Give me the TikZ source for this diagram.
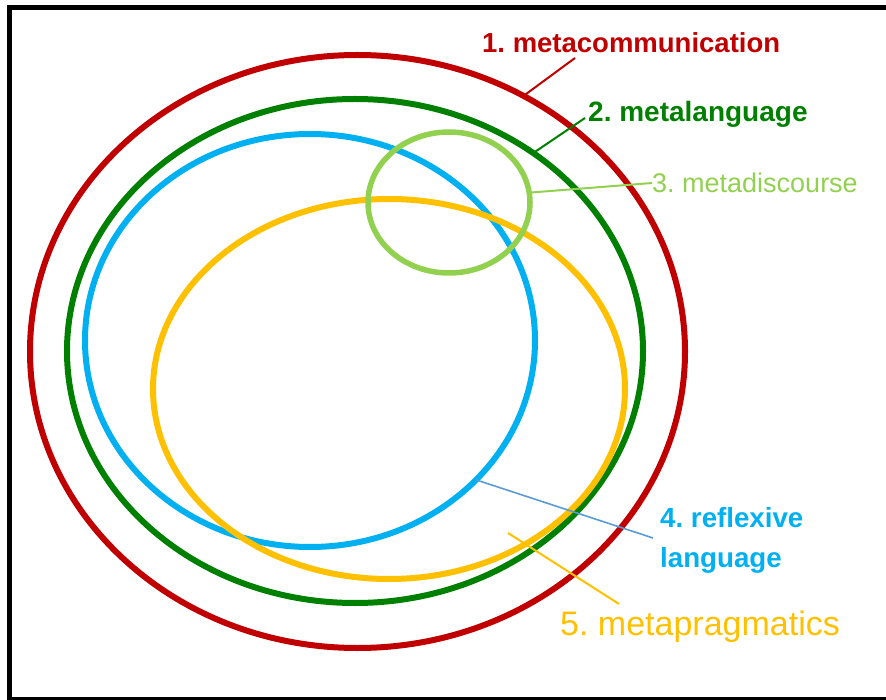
\documentclass[tikz,border=0pt]{standalone}
\usepackage{fontspec}
\setmainfont{Liberation Sans}
\usetikzlibrary{shapes.geometric}
\frenchspacing

\definecolor{commred}{HTML}{C00000}
\definecolor{langgreen}{HTML}{008000}
\definecolor{discgreen}{HTML}{92D050}
\definecolor{reflblue}{HTML}{00B0F0}
\definecolor{leadblue}{HTML}{5B9BD5}
\definecolor{pragyellow}{HTML}{FFC000}

\begin{document}
\begin{tikzpicture}[x=1pt,y=-1pt,
  ring/.style={draw, ellipse, line width=6pt, inner sep=0pt, outer sep=0pt},
  tag/.style={inner sep=0pt, anchor=base west},
  lead/.style={line width=2pt}]
  \useasboundingbox (0,0) rectangle (886,700);

  % Frame
  \draw[line width=5pt] (9.5,7.5) rectangle (900,699.5);

  % Rings
  \node[ring, commred, minimum width=655pt, minimum height=593pt] (metacomm) at (357.5,351.5) {};
  \node[ring, langgreen, minimum width=576pt, minimum height=504pt] (metalang) at (355,351) {};
  \node[ring, reflblue, minimum width=450pt, minimum height=413pt] (reflexive) at (310,340.5) {};
  \node[ring, pragyellow, minimum width=472pt, minimum height=380pt] (metaprag) at (389,389) {};
  \node[ring, discgreen, line width=5.5pt, minimum width=162pt, minimum height=141pt] (metadisc) at (449,202.5) {};

  % Labels
  \node[tag, commred, font=\fontsize{27.5}{33}\selectfont\bfseries] (lab1) at (482,53) {1. metacommunication};
  \node[tag, langgreen, font=\fontsize{28}{33}\selectfont\bfseries] (lab2) at (588,122) {2. metalanguage};
  \node[tag, discgreen, font=\fontsize{27}{33}\selectfont] (lab3) at (652,193) {3. metadiscourse};
  \node[inner sep=0pt, anchor=north west, align=left, reflblue,
        font=\fontsize{27.7}{40}\selectfont\bfseries] (lab4) at (660,507.5) {4. reflexive\\language};
  \node[tag, pragyellow, font=\fontsize{34}{40}\selectfont] (lab5) at (560,635) {5. metapragmatics};

  % Leaders
  \coordinate (tip1) at (575,58);
  \coordinate (tip2) at (585,118);
  \coordinate (tip3) at (652,183);
  \coordinate (tip4) at (653,538);
  \coordinate (tip5) at (619,604);
  \coordinate (foot5) at (508,533);
  \draw[lead, commred] (tip1) -- (metacomm.57);
  \draw[lead, langgreen] (tip2) -- (metalang.48);
  \draw[lead, discgreen] (tip3) -- (metadisc.7);
  \draw[lead, leadblue, line width=1.6pt] (tip4) -- (reflexive.-40);
  \draw[lead, pragyellow] (tip5) -- (foot5);
\end{tikzpicture}
\end{document}
